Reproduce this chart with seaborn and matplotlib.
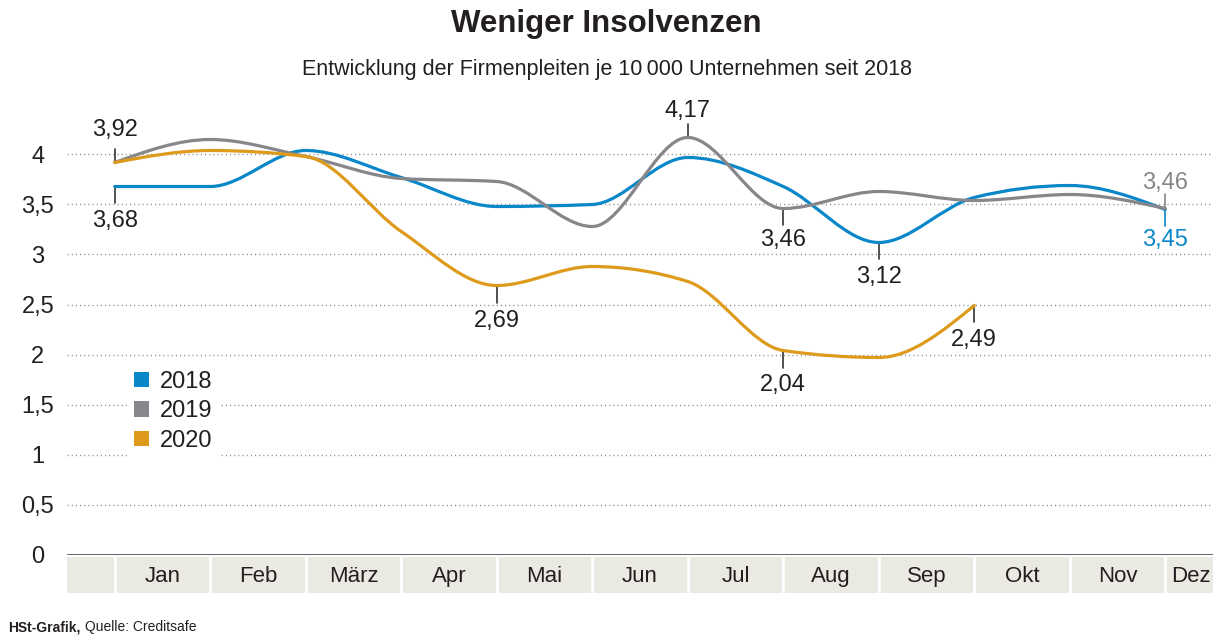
import numpy as np
import seaborn as sns
import matplotlib
matplotlib.use("Agg")
import matplotlib.pyplot as plt
from matplotlib.path import Path
from matplotlib.patches import PathPatch, Patch

# monthly values (insolvencies per 10 000 firms)
months = ["Jan", "Feb", "März", "Apr", "Mai", "Jun", "Jul", "Aug", "Sep", "Okt", "Nov", "Dez"]
years = ["2018", "2019", "2020"]
values_2018 = [3.68, 3.68, 4.04, 3.77, 3.48, 3.50, 3.97, 3.68, 3.12, 3.57, 3.69, 3.45]
values_2019 = [3.92, 4.15, 3.98, 3.76, 3.73, 3.28, 4.17, 3.46, 3.63, 3.54, 3.60, 3.46]
values_2020 = [3.92, 4.04, 3.98, 3.23, 2.69, 2.88, 2.73, 2.04, 1.97, 2.49]
yticks = [0, 0.5, 1, 1.5, 2, 2.5, 3, 3.5, 4]

colors = ["#0a87c9", "#87878b", "#de9b1b"]
TEXT = "#231f20"

# (series, month index, text offset, colored text?) - negative offset = below the line
labels = [
    (1, 0, 0.32, False),
    (0, 0, -0.35, False),
    (2, 4, -0.36, False),
    (1, 6, 0.26, False),
    (1, 7, -0.32, False),
    (0, 8, -0.35, False),
    (2, 7, -0.35, False),
    (2, 9, -0.35, False),
    (1, 11, 0.25, True),
    (0, 11, -0.31, True),
]


def de(v):
    return f"{v:.2f}".replace(".", ",")


def monotone_path(y):
    # cubic bezier path like d3.curveMonotoneX
    y = np.asarray(y, dtype=float)
    x = np.arange(len(y), dtype=float)
    s = np.diff(y)
    t = np.zeros(len(y))
    for i in range(1, len(y) - 1):
        p = (s[i - 1] + s[i]) / 2
        t[i] = (np.sign(s[i - 1]) + np.sign(s[i])) * min(abs(s[i - 1]), abs(s[i]), 0.5 * abs(p))
    t[0] = (3 * s[0] - t[1]) / 2
    t[-1] = (3 * s[-1] - t[-2]) / 2
    verts = [(x[0], y[0])]
    codes = [Path.MOVETO]
    for i in range(len(y) - 1):
        d = 1 / 3
        verts += [(x[i] + d, y[i] + d * t[i]), (x[i + 1] - d, y[i + 1] - d * t[i + 1]), (x[i + 1], y[i + 1])]
        codes += [Path.CURVE4] * 3
    return Path(verts, codes)


sns.set_theme(style="white")
plt.rcParams["font.family"] = ["Liberation Sans", "DejaVu Sans"]
plt.rcParams["text.color"] = TEXT

fig = plt.figure(figsize=(12.13, 6.36), dpi=100)
ax = fig.add_axes([67 / 1213, 1 - 554.5 / 636, 1146 / 1213, 460 / 636])
ax.set_xlim(-0.5, 11.5)
ax.set_ylim(0, 4.6)
for sp in ax.spines.values():
    sp.set_visible(False)

for yv in yticks[1:]:
    ax.axhline(yv, color="#8a8a8a", lw=1, ls=(0, (0.8, 2.2)), zorder=1)
ax.axhline(0, color="#555555", lw=2, zorder=2)

ax.set_xticks([])
ax.set_yticks(yticks)
ax.set_yticklabels([str(v).replace(".", ",").replace(",0", "") for v in yticks], fontsize=17, color=TEXT)
ax.tick_params(axis="y", length=0, pad=21)
for lab in ax.get_yticklabels():
    lab.set_ha("center")

series = [values_2018, values_2019, values_2020]
palette = sns.color_palette(colors)
for vals, col in zip(series, palette):
    ax.add_patch(PathPatch(monotone_path(vals), facecolor="none", edgecolor=col, lw=2.3,
                           capstyle="round", joinstyle="round", zorder=4))

for si, mi, off, colored in labels:
    v = series[si][mi]
    c = colors[si] if colored else TEXT
    tick_col = colors[si] if colored else "#333333"
    tick_len = 0.14 if off > 0 else -0.17
    ax.plot([mi, mi], [v, v + tick_len], color=tick_col, lw=1.2, zorder=3)
    ax.text(mi, v + off, de(v), ha="center", va="center", fontsize=17, color=c)

handles = [Patch(facecolor=c, edgecolor="none") for c in colors]
leg = ax.legend(handles, years, loc="upper left", bbox_to_anchor=(0.052, 0.415), frameon=True,
                fontsize=17, handlelength=0.65, handleheight=0.65, handletextpad=0.45,
                labelspacing=0.32, borderpad=0.3, borderaxespad=0)
leg.get_frame().set_facecolor("white")
leg.get_frame().set_edgecolor("none")
leg.get_frame().set_alpha(1)
for txt in leg.get_texts():
    txt.set_color(TEXT)

# month band under the axis
band = fig.add_axes([67 / 1213, 1 - 593 / 636, 1146 / 1213, 36 / 636])
band.set_xlim(-0.5, 11.5)
band.set_ylim(0, 1)
band.axis("off")
band.axvspan(-0.5, 11.5, color="#ebeae2", lw=0)
for i in range(12):
    band.axvline(i, color="white", lw=2)
for i, m in enumerate(months):
    xpos = i + 0.5 if i < 11 else 11.27
    band.text(xpos, 0.45, m, ha="center", va="center", fontsize=16, color=TEXT)

fig.text(0.5, 1 - 24 / 636, "Weniger Insolvenzen", ha="center", va="center", fontsize=22.5,
         fontweight="bold", color=TEXT)
fig.text(0.5, 1 - 70 / 636, "Entwicklung der Firmenpleiten je 10\u2009000 Unternehmen seit 2018",
         ha="center", va="center", fontsize=15.5, color=TEXT)
t1 = fig.text(8 / 1213, 1 - 627 / 636, "HSt-Grafik,", ha="left", va="center", fontsize=10,
              fontweight="bold", color=TEXT)
ax.annotate("Quelle: Creditsafe", xy=(1, 0), xycoords=t1, xytext=(3, 0), textcoords="offset points",
            ha="left", va="bottom", fontsize=10, color=TEXT, annotation_clip=False)

fig.savefig("out.png", dpi=100)
